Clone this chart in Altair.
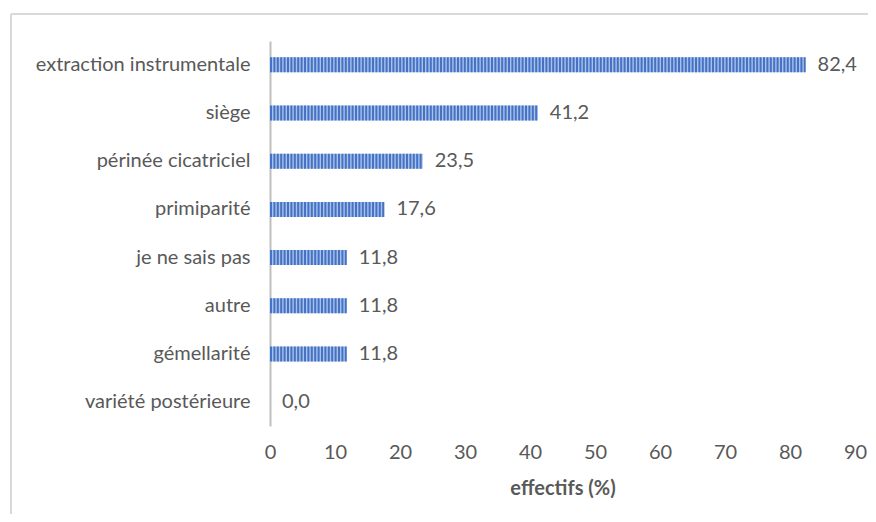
import altair as alt
import pandas as pd

categories = [
    "extraction instrumentale",
    "siège",
    "périnée cicatriciel",
    "primiparité",
    "je ne sais pas",
    "autre",
    "gémellarité",
    "variété postérieure",
]
values = [82.4, 41.2, 23.5, 17.6, 11.8, 11.8, 11.8, 0.0]
x_ticks = [0, 10, 20, 30, 40, 50, 60, 70, 80, 90]

df = pd.DataFrame({
    "cat": categories,
    "val": values,
    "zero": [0.0] * len(values),
    "label": [f"{v:.1f}".replace(".", ",") for v in values],
})

FONT = "Lato"
TXT = "#595959"
FS = 20

y_enc = alt.Y("cat:N", sort=categories, title=None,
              scale=alt.Scale(paddingInner=0.67, paddingOuter=0.33),
              axis=alt.Axis(ticks=False, domainColor="#bfbfbf", domainWidth=2,
                            labelFontSize=FS, labelColor=TXT, labelFont=FONT,
                            labelPadding=20, labelLimit=400))
x_enc = alt.X("val:Q", title="effectifs (%)",
              scale=alt.Scale(domain=[0, 90], nice=False),
              axis=alt.Axis(values=x_ticks, grid=False, ticks=False, domain=False,
                            labelFlush=False,
                            labelFontSize=FS, labelColor=TXT, labelFont=FONT,
                            labelPadding=16, titleFontSize=FS, titleColor=TXT,
                            titleFont=FONT, titleFontWeight="bold", titlePadding=16))

base = alt.Chart(df)

bars = base.mark_bar(color="#abc1ea", size=15).encode(y=y_enc, x=x_enc)
stripes = base.mark_rule(color="#4472c4", strokeWidth=15, strokeDash=[2, 1.4],
                         strokeCap="butt").encode(
    y=alt.Y("cat:N", sort=categories),
    x="zero:Q",
    x2="val:Q",
)
labels = base.mark_text(align="left", baseline="middle", dx=12, fontSize=FS,
                        font=FONT, color=TXT).encode(
    y=alt.Y("cat:N", sort=categories), x="val:Q", text="label:N")

frame_top = alt.Chart(pd.DataFrame({"a": [0]})).mark_rule(
    color="#d9d9d9", strokeWidth=2).encode(
    x=alt.value(-259), x2=alt.value(620), y=alt.value(-27))
frame_left = alt.Chart(pd.DataFrame({"a": [0]})).mark_rule(
    color="#d9d9d9", strokeWidth=2).encode(
    x=alt.value(-259), y=alt.value(-27), y2=alt.value(500))

chart = alt.layer(bars, stripes, labels, frame_top, frame_left).properties(
    width=585, height=385,
    autosize=alt.AutoSizeParams(type="none"),
    padding={"left": 262, "top": 33, "right": 13, "bottom": 88},
).configure(background="white").configure_view(strokeWidth=0, stroke="transparent")

chart.save("out.html", embed_options={"renderer": "svg", "actions": False})
